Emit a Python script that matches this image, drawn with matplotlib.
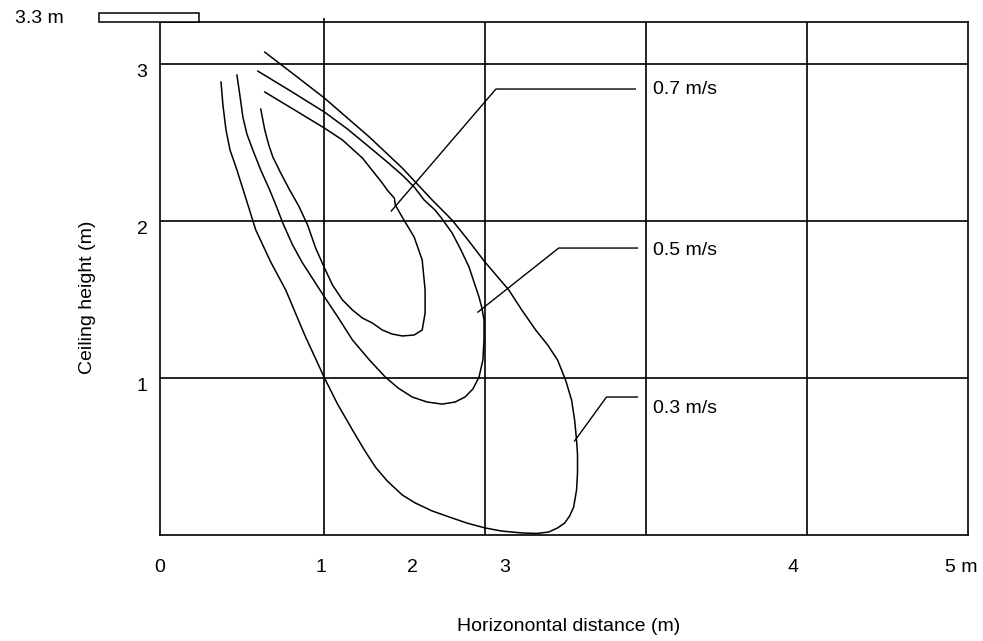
import matplotlib
matplotlib.use("Agg")
import matplotlib.pyplot as plt
from matplotlib.patches import Rectangle
import matplotlib.transforms as mtransforms

plt.rcParams['font.family'] = ['Liberation Sans', 'DejaVu Sans']

# ---- data (x in grid units, y in metres) ----
v03_x = [0.359, 0.371, 0.390, 0.415, 0.452, 0.507, 0.575, 0.668, 0.761, 0.879, 1.002,
         1.083, 1.176, 1.250, 1.318, 1.392, 1.485, 1.566, 1.671, 1.776, 1.887, 1.999,
         2.104, 2.228, 2.321, 2.395, 2.450, 2.494, 2.525, 2.550, 2.568, 2.574, 2.574,
         2.568, 2.556, 2.537, 2.500, 2.450, 2.389, 2.314, 2.228, 2.147, 2.073, 1.999,
         1.894, 1.795, 1.671, 1.485, 1.281, 1.002, 0.817, 0.631]
v03_y = [2.885, 2.739, 2.580, 2.452, 2.344, 2.166, 1.943, 1.739, 1.561, 1.274, 1.000,
         0.834, 0.669, 0.541, 0.433, 0.344, 0.255, 0.204, 0.153, 0.115, 0.076, 0.045,
         0.025, 0.013, 0.010, 0.019, 0.045, 0.076, 0.121, 0.178, 0.287, 0.395, 0.510,
         0.605, 0.732, 0.860, 0.987, 1.115, 1.210, 1.306, 1.433, 1.561, 1.650, 1.739,
         1.879, 2.006, 2.134, 2.338, 2.535, 2.783, 2.930, 3.076]

v05_x = [0.458, 0.476, 0.495, 0.520, 0.557, 0.606, 0.662, 0.705, 0.743, 0.804, 0.866,
         0.934, 1.002, 1.089, 1.176, 1.281, 1.380, 1.460, 1.547, 1.640, 1.733, 1.813,
         1.875, 1.924, 1.962, 1.986, 1.993, 1.993, 1.980, 1.962, 1.931, 1.900, 1.850,
         1.795, 1.733, 1.689, 1.621, 1.559, 1.485, 1.392, 1.281, 1.145, 1.002, 0.792,
         0.588]
v05_y = [2.930, 2.803, 2.662, 2.554, 2.452, 2.325, 2.197, 2.089, 1.987, 1.847, 1.732,
         1.624, 1.516, 1.382, 1.242, 1.115, 1.006, 0.936, 0.879, 0.847, 0.834, 0.847,
         0.879, 0.930, 1.006, 1.115, 1.242, 1.369, 1.446, 1.516, 1.611, 1.707, 1.815,
         1.924, 2.013, 2.070, 2.134, 2.217, 2.293, 2.376, 2.471, 2.586, 2.694, 2.828,
         2.955]

v07_x = [0.606, 0.631, 0.656, 0.681, 0.730, 0.786, 0.842, 0.897, 0.947, 1.002, 1.052,
         1.114, 1.176, 1.238, 1.300, 1.361, 1.423, 1.485, 1.559, 1.609, 1.627, 1.627,
         1.609, 1.559, 1.485, 1.442, 1.436, 1.392, 1.361, 1.238, 1.114, 1.002, 0.817,
         0.631]
v07_y = [2.713, 2.580, 2.484, 2.408, 2.306, 2.197, 2.096, 1.975, 1.828, 1.701, 1.592,
         1.497, 1.433, 1.382, 1.350, 1.306, 1.280, 1.268, 1.274, 1.306, 1.414, 1.561,
         1.752, 1.898, 2.025, 2.102, 2.146, 2.197, 2.242, 2.401, 2.516, 2.592, 2.707,
         2.822]

labels = ['0.7 m/s', '0.5 m/s', '0.3 m/s']
leader_x = [[1.417, 2.067, 2.933], [1.955, 2.457, 2.946], [2.556, 2.754, 2.946]]
leader_y = [[2.064, 2.841, 2.841], [1.420, 1.828, 1.828], [0.599, 0.879, 0.879]]
label_y = [2.841, 1.815, 0.809]

xtick_pos = [-0.02, 0.98, 1.55, 2.12, 3.91, 4.96]
xtick_labels = ['0', '1', '2', '3', '4', '5 m']
ytick_pos = [1, 2, 3]
ytick_labels = ['1', '2', '3']
xgrid = [1, 2, 3, 4]
ygrid = [1, 2, 3]

FS = 14

fig = plt.figure(figsize=(9.83, 6.41), dpi=100)
ax = fig.add_axes([160/983, 106/641, 808/983, 513/641])
ax.set_xlim(0, 5)
ax.set_ylim(0, 3.268)

for g in xgrid:
    ax.axvline(g, color='black', lw=1.2, zorder=1)
for g in ygrid:
    ax.axhline(g, color='black', lw=1.2, zorder=1)
for s in ax.spines.values():
    s.set_linewidth(1.2)
    s.set_color('black')

# small extension of x=1 grid line above the frame
ax.plot([1, 1], [3.268, 3.29], color='black', lw=1.2, clip_on=False)

for xs, ys in [(v03_x, v03_y), (v05_x, v05_y), (v07_x, v07_y)]:
    ax.plot(xs, ys, color='black', lw=1.1, zorder=3, solid_joinstyle='round')

for lx, ly, lab, ty in zip(leader_x, leader_y, labels, label_y):
    ax.plot(lx, ly, color='black', lw=1.0, zorder=3)
    ax.text(3.045, ty, lab, fontsize=FS, va='center', ha='left')

# ceiling marker
ax.add_patch(Rectangle((-0.402, 3.268), 0.625, 0.057, facecolor='white',
                       edgecolor='black', lw=1.1, clip_on=False, zorder=5))
ax.text(-0.619, 3.293, '3.3 m', fontsize=FS, ha='right', va='center')

ax.set_xticks(xtick_pos)
ax.set_xticklabels(xtick_labels, fontsize=FS)
ax.set_yticks(ytick_pos)
ax.set_yticklabels(ytick_labels, fontsize=FS)
ax.tick_params(axis='x', length=0, pad=17)
ax.tick_params(axis='y', length=0, pad=9)
off = mtransforms.ScaledTranslation(0, -6/100, fig.dpi_scale_trans)
for lab in ax.get_yticklabels():
    lab.set_transform(lab.get_transform() + off)

ax.set_ylabel('Ceiling height (m)', fontsize=FS)
ax.yaxis.set_label_coords(-0.079, 0.464)
ax.set_xlabel('Horizonontal distance (m)', fontsize=FS)
ax.xaxis.set_label_coords(0.506, -0.161)

fig.savefig('out.png', dpi=100)
